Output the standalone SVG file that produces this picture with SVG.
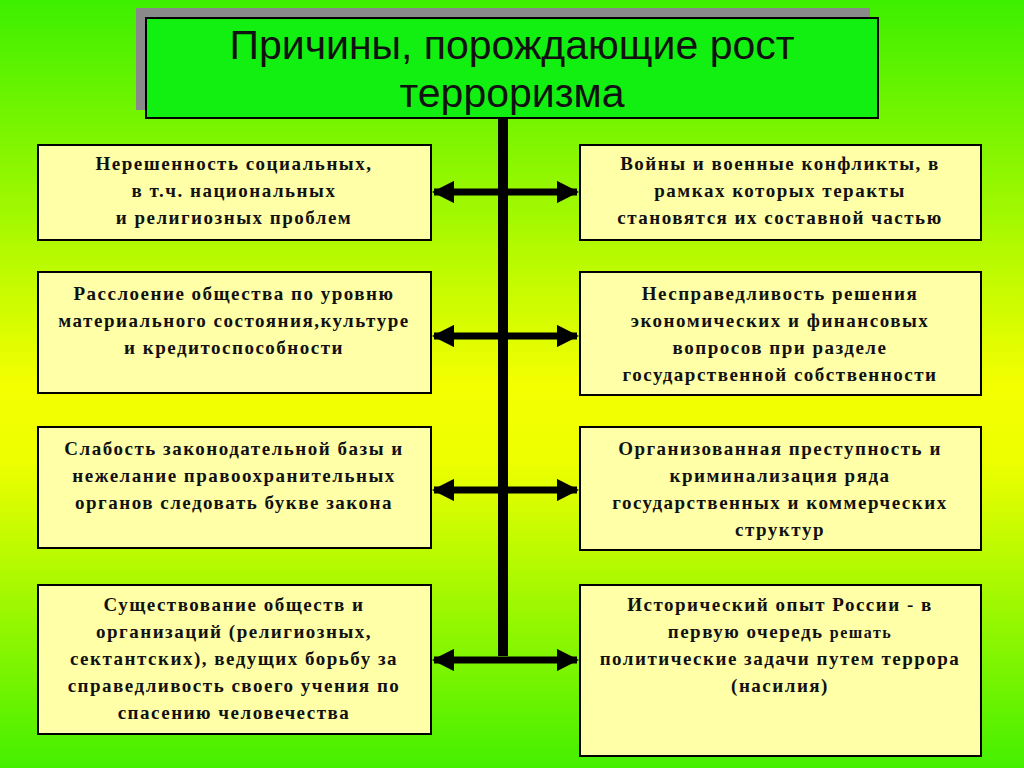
<svg xmlns="http://www.w3.org/2000/svg" width="1024" height="768" viewBox="0 0 1024 768">
<defs>
<linearGradient id="bg" x1="0" y1="0" x2="0" y2="1">
<stop offset="0" stop-color="#3cf000"/>
<stop offset="0.5" stop-color="#f4ff00"/>
<stop offset="0.6" stop-color="#eeff00"/>
<stop offset="1" stop-color="#44f000"/>
</linearGradient>
<marker id="ah" viewBox="0 0 10 10" refX="9" refY="5" markerWidth="3.2" markerHeight="3.2" orient="auto-start-reverse" markerUnits="strokeWidth">
<path d="M0,0 L10,5 L0,10 z" fill="#000"/>
</marker>
<style>
.box{fill:#ffffa8;stroke:#000;stroke-width:2}
.t{font-family:"Liberation Serif",serif;font-weight:bold;font-size:19px;letter-spacing:1.5px;fill:#111;text-anchor:middle}
.c{stroke:#000;stroke-width:7;fill:none}
</style>
</defs>
<rect width="1024" height="768" fill="url(#bg)"/>
<g id="title">
<rect x="136" y="8" width="734" height="102" fill="#8a8a8a"/>
<rect x="146" y="18" width="732" height="100" fill="#11f011" stroke="#000" stroke-width="2"/>
<text x="512" y="59" font-family="Liberation Sans,sans-serif" font-size="41" text-anchor="middle" fill="#111">Причины, порождающие рост</text>
<text x="512" y="107" font-family="Liberation Sans,sans-serif" font-size="41" text-anchor="middle" fill="#111">терроризма</text>
</g>
<g id="connectors">
<line x1="503" y1="118" x2="503" y2="656" stroke="#000" stroke-width="10"/>
<line class="c" x1="434" y1="192" x2="577" y2="192" marker-start="url(#ah)" marker-end="url(#ah)"/>
<line class="c" x1="434" y1="336" x2="577" y2="336" marker-start="url(#ah)" marker-end="url(#ah)"/>
<line class="c" x1="434" y1="490" x2="577" y2="490" marker-start="url(#ah)" marker-end="url(#ah)"/>
<line class="c" x1="434" y1="660" x2="577" y2="660" marker-start="url(#ah)" marker-end="url(#ah)"/>
</g>
<g id="l1"><rect class="box" x="38" y="145" width="393" height="95"/>
<text class="t" x="234" y="170">Нерешенность  социальных,</text>
<text class="t" x="234" y="197">в т.ч. национальных</text>
<text class="t" x="234" y="224">и религиозных проблем</text></g>
<g id="l2"><rect class="box" x="38" y="272" width="393" height="121"/>
<text class="t" x="234" y="300">Расслоение общества по уровню</text>
<text class="t" x="234" y="327">материального состояния,культуре</text>
<text class="t" x="234" y="354">и кредитоспособности</text></g>
<g id="l3"><rect class="box" x="38" y="427" width="393" height="121"/>
<text class="t" x="234" y="455">Слабость законодательной базы и</text>
<text class="t" x="234" y="482">нежелание правоохранительных</text>
<text class="t" x="234" y="509">органов следовать букве закона</text></g>
<g id="l4"><rect class="box" x="38" y="585" width="393" height="149"/>
<text class="t" x="234" y="611">Существование обществ и</text>
<text class="t" x="234" y="638">организаций (религиозных,</text>
<text class="t" x="234" y="665">сектантских), ведущих борьбу за</text>
<text class="t" x="234" y="692">справедливость своего учения по</text>
<text class="t" x="234" y="719">спасению человечества</text></g>
<g id="r1"><rect class="box" x="580" y="145" width="401" height="95"/>
<text class="t" x="780" y="170">Войны и военные конфликты, в</text>
<text class="t" x="780" y="197">рамках которых теракты</text>
<text class="t" x="780" y="224">становятся их составной частью</text></g>
<g id="r2"><rect class="box" x="580" y="272" width="401" height="123"/>
<text class="t" x="780" y="300">Несправедливость решения</text>
<text class="t" x="780" y="327">экономических и финансовых</text>
<text class="t" x="780" y="354">вопросов при разделе</text>
<text class="t" x="780" y="381">государственной собственности</text></g>
<g id="r3"><rect class="box" x="580" y="427" width="401" height="123"/>
<text class="t" x="780" y="455">Организованная преступность и</text>
<text class="t" x="780" y="482">криминализация ряда</text>
<text class="t" x="780" y="509">государственных и коммерческих</text>
<text class="t" x="780" y="536">структур</text></g>
<g id="r4"><rect class="box" x="580" y="585" width="401" height="171"/>
<text class="t" x="780" y="611">Исторический опыт России - в</text>
<text class="t" x="780" y="638">первую очередь <tspan font-size="16">решать</tspan></text>
<text class="t" x="780" y="665">политические задачи путем террора</text>
<text class="t" x="780" y="692">(насилия)</text></g>
</svg>
